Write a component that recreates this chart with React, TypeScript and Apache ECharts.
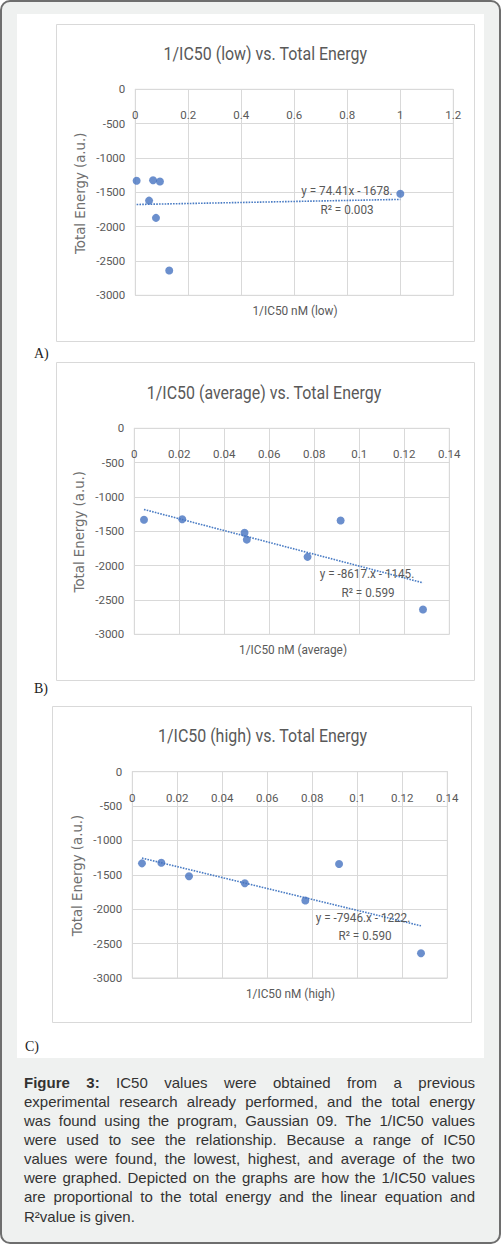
import React, { useEffect, useRef } from "react";
import * as echarts from "echarts";

// ---------- data ----------
const energy = [-1333, -1325, -1343, -1520, -1621, -1872, -2640];
const lowX = [0.005, 0.067, 0.093, 1.0, 0.052, 0.078, 0.128];
const avgX = [0.0043, 0.0213, 0.0917, 0.049, 0.05, 0.077, 0.1283];
const highX = [0.0043, 0.0129, 0.0919, 0.0252, 0.05, 0.0769, 0.1283];

const chartTitles = [
  "1/IC50 (low) vs. Total Energy",
  "1/IC50 (average) vs. Total Energy",
  "1/IC50 (high) vs. Total Energy",
];
const xAxisTitles = ["1/IC50 nM (low)", "1/IC50 nM (average)", "1/IC50 nM (high)"];
const yAxisTitle = "Total Energy (a.u.)";
const xMax = [1.2, 0.14, 0.14];
const xStep = [0.2, 0.02, 0.02];
const yMin = -3000;
const yMax = 0;
const yStep = 500;
const trendSlope = [74.41, -8617, -7946];
const trendIntercept = [-1678, -1145, -1222];
const eqLabels = ["y = 74.41x - 1678.", "y = -8617.x - 1145.", "y = -7946.x - 1222."];
const r2Labels = ["R\u00b2 = 0.003", "R\u00b2 = 0.599", "R\u00b2 = 0.590"];
const panelLetters = ["A)", "B)", "C)"];

const captionLines = [
  "Figure 3: IC50 values were obtained from a previous",
  "experimental research already performed, and the total energy",
  "was found using the program, Gaussian 09. The 1/IC50 values",
  "were used to see the relationship. Because a range of IC50",
  "values were found, the lowest, highest, and average of the two",
  "were graphed. Depicted on the graphs are how the 1/IC50 values",
  "are proportional to the total energy and the linear equation and",
  "R\u00b2value is given.",
];

const xSets = [lowX, avgX, highX];

// ---------- layout ----------
const LAYOUT = [
  {
    grid: { left: 135.3, top: 89.3, width: 318, height: 206 },
    frame: { x: 56.5, y: 24.5, width: 418, height: 317 },
    title: [265.3, 53.3], xName: [295, 310.7], yName: [80, 193.3],
    eq: [347, 191], r2: [347, 210], letter: [34, 353],
  },
  {
    grid: { left: 134.3, top: 428.3, width: 315, height: 206 },
    frame: { x: 56.5, y: 362.5, width: 418, height: 318 },
    title: [264, 392.3], xName: [293, 649.3], yName: [79, 531.7],
    eq: [367, 574], r2: [368, 593], letter: [34, 688],
  },
  {
    grid: { left: 132.3, top: 771.7, width: 315, height: 206.3 },
    frame: { x: 52.5, y: 706.5, width: 419, height: 316 },
    title: [262.5, 735.7], xName: [290.5, 993.3], yName: [77.7, 875.5],
    eq: [363, 918], r2: [365, 936], letter: [25, 1046],
  },
];

const NARROW = '"Liberation Sans Narrow", "Roboto", sans-serif';
const CAP_FONT = '"Liberation Sans", Arial, sans-serif';
const GRID_COLOR = "#d9d9d9";
const TEXT_COLOR = "#595959";
const DOT_COLOR = "#4673c0";

function measure(text: string, size: number, weight: string) {
  const ctx = document.createElement("canvas").getContext("2d")!;
  ctx.font = `${weight} ${size}px ${CAP_FONT}`;
  return ctx.measureText(text).width;
}

function captionElements() {
  const els: any[] = [];
  const left = 24;
  const right = 475;
  const size = 15;
  const top = 1082;
  const lh = 19.15;
  captionLines.forEach((line, li) => {
    const y = top + li * lh;
    const last = li === captionLines.length - 1;
    if (last) {
      els.push({
        type: "text", x: left, y, z: 10,
        style: { text: line, fill: "#333", fontSize: size, fontFamily: CAP_FONT, align: "left", verticalAlign: "middle", textAlign: "left", textVerticalAlign: "middle" },
      });
      return;
    }
    const words = line.split(" ");
    const weights = words.map((w, i) => (li === 0 && i < 2 ? "bold" : "normal"));
    const widths = words.map((w, i) => measure(w, size, weights[i]));
    const total = widths.reduce((a, b) => a + b, 0);
    const gap = (right - left - total) / (words.length - 1);
    let x = left;
    words.forEach((w, i) => {
      els.push({
        type: "text", x, y, z: 10,
        style: { text: w, fill: "#333", fontSize: size, fontWeight: weights[i], fontFamily: CAP_FONT, align: "left", verticalAlign: "middle", textAlign: "left", textVerticalAlign: "middle" },
      });
      x += widths[i] + gap;
    });
  });
  return els;
}

function textEl(text: string, pos: number[], opts: any) {
  const rot = opts.rotation || 0;
  const sx = opts.squeeze || 1;
  return {
    type: "text", x: pos[0], y: pos[1], z: 10, rotation: rot,
    scaleX: sx,
    style: {
      text, fill: opts.color || TEXT_COLOR, fontSize: opts.size, fontFamily: opts.family || NARROW,
      fontWeight: opts.weight || "normal",
      align: opts.align || "center", verticalAlign: "middle",
      textAlign: opts.align || "center", textVerticalAlign: "middle",
    },
  };
}

function buildOption() {
  const graphics: any[] = [];
  graphics.push({
    type: "rect", z: -10,
    shape: { x: 1, y: 1, width: 499, height: 1242, r: 9 },
    style: { fill: "#eff1f0", stroke: "#6e6e6e", lineWidth: 2 },
  });
  graphics.push({
    type: "rect", z: -9,
    shape: { x: 17, y: 14, width: 467, height: 1044 },
    style: { fill: "#ffffff" },
  });
  LAYOUT.forEach((L, i) => {
    graphics.push({
      type: "rect", z: -8,
      shape: { ...L.frame },
      style: { fill: "#ffffff", stroke: GRID_COLOR, lineWidth: 1 },
    });
    graphics.push(textEl(chartTitles[i], L.title, { size: 19, squeeze: 0.84 }));
    graphics.push(textEl(xAxisTitles[i], L.xName, { size: 13.3, squeeze: 0.89 }));
    graphics.push(textEl(yAxisTitle, L.yName, { size: 13.3, family: '"DejaVu Sans", sans-serif', rotation: Math.PI / 2, color: "#707070" }));
    graphics.push(textEl(eqLabels[i], L.eq, { size: 13, squeeze: 0.9 }));
    graphics.push(textEl(r2Labels[i], L.r2, { size: 13, squeeze: 0.9 }));
    graphics.push(textEl(panelLetters[i], L.letter, { size: 14, family: '"Liberation Serif", serif', align: "left", color: "#222" }));
  });
  graphics.push(...captionElements());

  const grids = LAYOUT.map((L) => ({
    ...L.grid, show: true, borderColor: GRID_COLOR, borderWidth: 1, backgroundColor: "transparent",
  }));

  const xAxes = LAYOUT.map((L, i) => ({
    type: "value", gridIndex: i, position: "top", min: 0, max: xMax[i], interval: xStep[i],
    axisLine: { show: true, onZero: false, lineStyle: { color: GRID_COLOR } },
    axisTick: { show: false },
    axisLabel: {
      inside: true, margin: 20, color: TEXT_COLOR, fontSize: 11.5, fontFamily: NARROW,
      formatter: (v: number) => String(Math.round(v * 100) / 100),
    },
    splitLine: { show: true, lineStyle: { color: GRID_COLOR, width: 1 } },
  }));

  const yAxes = LAYOUT.map((L, i) => ({
    type: "value", gridIndex: i, min: yMin, max: yMax, interval: yStep,
    axisLine: { show: true, onZero: false, lineStyle: { color: GRID_COLOR } },
    axisTick: { show: false },
    axisLabel: {
      margin: 10, color: TEXT_COLOR, fontSize: 11.5, fontFamily: NARROW,
      formatter: (v: number) => String(Math.round(v)),
    },
    splitLine: { show: true, lineStyle: { color: GRID_COLOR, width: 1 } },
  }));

  const series: any[] = [];
  xSets.forEach((xs, i) => {
    series.push({
      type: "scatter", xAxisIndex: i, yAxisIndex: i, symbolSize: 8, z: 4,
      itemStyle: { color: DOT_COLOR },
      data: xs.map((x, k) => [x, energy[k]]),
    });
    const x0 = Math.min(...xs);
    const x1 = Math.max(...xs);
    series.push({
      type: "line", xAxisIndex: i, yAxisIndex: i, symbol: "none", showSymbol: false, z: 3,
      lineStyle: { color: "#4a7cc4", width: 1.6, type: [1.6, 1.2] },
      data: [
        [x0, trendSlope[i] * x0 + trendIntercept[i]],
        [x1, trendSlope[i] * x1 + trendIntercept[i]],
      ],
    });
  });

  return {
    animation: false,
    backgroundColor: "#ffffff",
    grid: grids,
    xAxis: xAxes,
    yAxis: yAxes,
    series,
    graphic: { elements: graphics },
  };
}

export default function App() {
  const ref = useRef<HTMLDivElement>(null);
  useEffect(() => {
    document.body.style.margin = "0";
    const chart = echarts.init(ref.current!, undefined, { renderer: "svg" });
    chart.setOption(buildOption() as any);
    return () => chart.dispose();
  }, []);
  return (
    <div
      ref={ref}
      style={{ position: "absolute", left: 0, top: 0, width: 501, height: 1244 }}
    />
  );
}
